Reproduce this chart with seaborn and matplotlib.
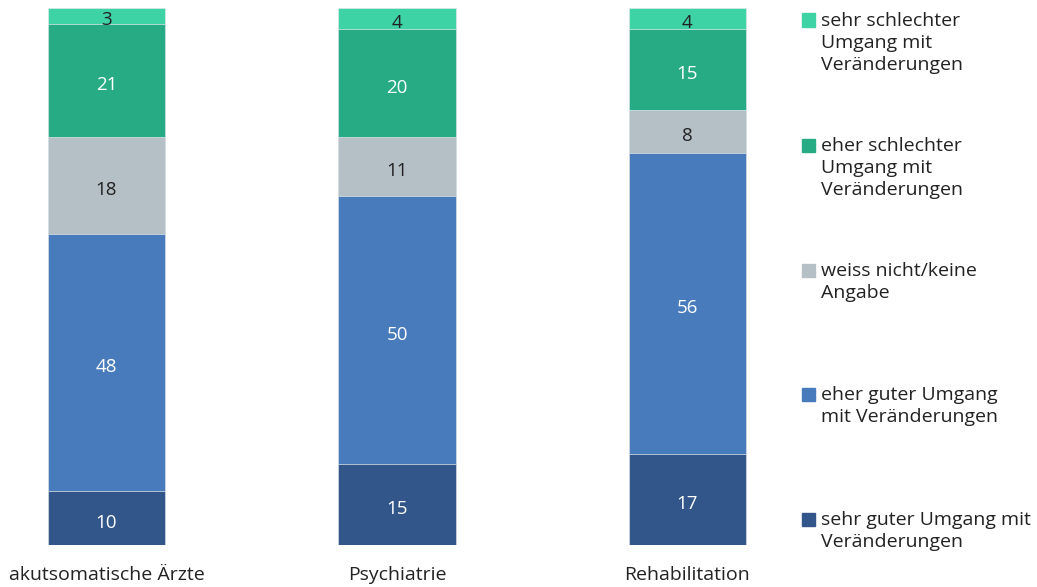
import numpy as np
import pandas as pd
import matplotlib
matplotlib.use('Agg')
import matplotlib.pyplot as plt
import seaborn as sns
from matplotlib.patches import Rectangle

sns.set_style('white')
plt.rcParams['font.family'] = ['Open Sans', 'DejaVu Sans']

groups = ['akutsomatische Ärzte', 'Psychiatrie', 'Rehabilitation']
# bottom to top
levels = ['sehr guter Umgang mit\nVeränderungen',
          'eher guter Umgang\nmit Veränderungen',
          'weiss nicht/keine\nAngabe',
          'eher schlechter\nUmgang mit\nVeränderungen',
          'sehr schlechter\nUmgang mit\nVeränderungen']
sehr_gut = [10, 15, 17]
eher_gut = [48, 50, 56]
weiss_nicht = [18, 11, 8]
eher_schlecht = [21, 20, 15]
sehr_schlecht = [3, 4, 4]
colors = ['#325689', '#487bbb', '#b5bfc6', '#27ab84', '#3dd3a5']
label_colors = ['white', 'white', '#222222', 'white', '#222222']

series = [sehr_gut, eher_gut, weiss_nicht, eher_schlecht, sehr_schlecht]
df = pd.DataFrame(np.array(series).T, index=groups, columns=levels)
cum = df.cumsum(axis=1)

fig = plt.figure(figsize=(10.37, 5.87), dpi=100)
W, H = 1037, 587
ax = fig.add_axes([0, (H - 545) / H, 780 / W, 537 / H])

# draw cumulative bars from top segment down so they stack
for i in range(len(levels) - 1, -1, -1):
    d = pd.DataFrame({'group': groups, 'val': cum.iloc[:, i].values})
    sns.barplot(data=d, x='group', y='val', color=colors[i], width=0.403,
                edgecolor='#dfe6ea', linewidth=0.5, saturation=1, ax=ax)

for j, g in enumerate(groups):
    for i in range(len(levels)):
        v = df.iloc[j, i]
        mid = cum.iloc[j, i] - v / 2 - 0.45
        ax.text(j, mid, str(v), ha='center', va='center_baseline', fontsize=13.5,
                color=label_colors[i])

ax.set_xlim(-106.5 / 290.5, (780 - 106.5) / 290.5)
ax.set_ylim(0, 100)
ax.set_yticks([])
ax.set_xlabel('')
ax.set_ylabel('')
ax.tick_params(axis='x', length=0, pad=15, labelsize=14, labelcolor='#222222')
sns.despine(ax=ax, left=True, bottom=True)

# legend, top entry first
legend_y = [20, 145, 270, 394, 519]
for k, i in enumerate(range(len(levels) - 1, -1, -1)):
    y = legend_y[k]
    fig.patches.append(Rectangle((802 / W, 1 - (y + 6.5) / H), 13 / W, 13 / H,
                                 transform=fig.transFigure, color=colors[i]))
    fig.text(821 / W, 1 - (y - 8) / H, levels[i], ha='left', va='top',
             fontsize=14, color='#222222', linespacing=1.27)

fig.savefig('out.png', dpi=100)
